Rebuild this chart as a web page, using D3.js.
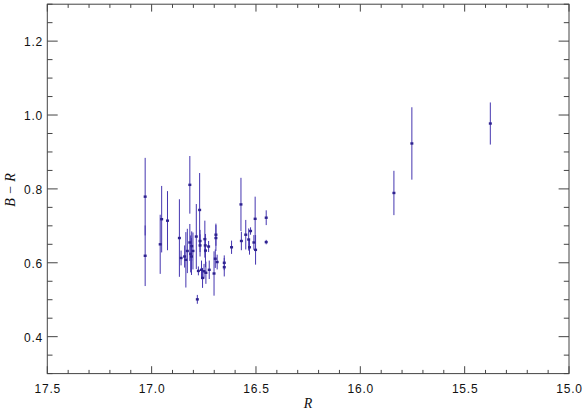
<!DOCTYPE html>
<html><head><meta charset="utf-8">
<script src="https://cdn.jsdelivr.net/npm/d3@7"></script>
<style>
body{margin:0;background:#fff;}
svg{display:block;}
text{font-family:"Liberation Sans",Arial,sans-serif;fill:#111;}
</style></head>
<body>
<svg id="c" width="584" height="411"></svg>
<script>
// R magnitude
const rMag = [17.031,17.031,16.959,16.952,16.924,16.867,16.859,16.842,16.836,16.829,
  16.817,16.817,16.813,16.809,16.808,16.802,16.786,16.776,16.781,16.770,
  16.768,16.768,16.761,16.756,16.749,16.745,16.743,16.742,16.740,16.727,
  16.724,16.701,16.695,16.692,16.692,16.686,16.652,16.652,16.617,16.572,
  16.570,16.549,16.535,16.531,16.526,16.510,16.504,16.502,16.451,16.451,
  15.839,15.753,15.377];
// B - R colour
const bMinusR = [0.779,0.619,0.650,0.718,0.714,0.667,0.613,0.617,0.608,0.632,
  0.811,0.655,0.624,0.617,0.645,0.632,0.671,0.578,0.501,0.743,
  0.659,0.647,0.581,0.559,0.577,0.664,0.647,0.633,0.573,0.644,
  0.581,0.571,0.611,0.667,0.676,0.602,0.600,0.588,0.642,0.758,
  0.659,0.676,0.663,0.642,0.686,0.655,0.719,0.635,0.722,0.656,
  0.789,0.923,0.977];
// error on B - R
const bMinusRErr = [0.105,0.082,0.080,0.090,0.080,0.105,0.020,0.030,0.075,0.060,
  0.078,0.050,0.050,0.050,0.040,0.050,0.088,0.012,0.012,0.100,
  0.030,0.030,0.025,0.027,0.020,0.050,0.020,0.045,0.030,0.015,
  0.025,0.060,0.025,0.035,0.030,0.020,0.020,0.025,0.018,0.072,
  0.025,0.040,0.030,0.020,0.010,0.020,0.060,0.040,0.020,0.006,
  0.060,0.098,0.057];
const xTicks = [17.5,17.0,16.5,16.0,15.5,15.0];
const yTicks = [0.4,0.6,0.8,1.0,1.2];
const xDomain = [17.5,15.0];
const yDomain = [0.3,1.3];

const L=47.3, Rr=569, T=4.2, B=373.6;
const svg = d3.select("#c");
const x = d3.scaleLinear().domain(xDomain).range([L,Rr]);
const y = d3.scaleLinear().domain(yDomain).range([B,T]);

const data = rMag.map((r,i)=>({r, v:bMinusR[i], e:bMinusRErr[i]}));

// error bars
svg.append("g").selectAll("line").data(data).join("line")
  .attr("x1",d=>x(d.r)).attr("x2",d=>x(d.r))
  .attr("y1",d=>y(d.v+d.e)).attr("y2",d=>y(d.v-d.e))
  .attr("stroke","#4536b0").attr("stroke-width",1);
// points
svg.append("g").selectAll("rect").data(data).join("rect")
  .attr("x",d=>x(d.r)-1.5).attr("y",d=>y(d.v)-1.2)
  .attr("width",3).attr("height",2.4)
  .attr("fill","#2e2290");

// frame
const axisColor="#444";
svg.append("rect").attr("x",L).attr("y",T).attr("width",Rr-L).attr("height",B-T)
  .attr("fill","none").attr("stroke",axisColor).attr("stroke-width",1);

// ticks
const xMinor = d3.range(0,26).map(i=>+(17.5-i*0.1).toFixed(2));
const yMinor = d3.range(0,21).map(i=>+(0.3+i*0.05).toFixed(3));
const isMajorX = v=>xTicks.some(t=>Math.abs(t-v)<1e-6);
const isMajorY = v=>yTicks.some(t=>Math.abs(t-v)<1e-6);
const tg = svg.append("g").attr("stroke",axisColor).attr("stroke-width",1);
xMinor.forEach(v=>{
  const len = isMajorX(v)?7.4:3.7;
  tg.append("line").attr("x1",x(v)).attr("x2",x(v)).attr("y1",B).attr("y2",B-len);
  tg.append("line").attr("x1",x(v)).attr("x2",x(v)).attr("y1",T).attr("y2",T+len);
});
yMinor.forEach(v=>{
  const len = isMajorY(v)?10.4:5.2;
  tg.append("line").attr("x1",L).attr("x2",L+len).attr("y1",y(v)).attr("y2",y(v));
  tg.append("line").attr("x1",Rr).attr("x2",Rr-len).attr("y1",y(v)).attr("y2",y(v));
});

// tick labels
svg.append("g").selectAll("text").data(xTicks).join("text")
  .attr("x",d=>x(d)+0.5).attr("y",393)
  .attr("text-anchor","middle").attr("font-size",12).attr("letter-spacing",0.8)
  .text(d=>d.toFixed(1));
svg.append("g").selectAll("text").data(yTicks).join("text")
  .attr("x",43).attr("y",d=>y(d)+5)
  .attr("text-anchor","end").attr("font-size",12).attr("letter-spacing",0.8)
  .text(d=>d.toFixed(1));

// axis titles
svg.append("text").attr("x",308).attr("y",408).attr("text-anchor","middle")
  .style("font-family","'Liberation Serif','Times New Roman',serif")
  .attr("font-size",14).attr("font-style","italic").text("R");
svg.append("text").attr("transform","translate(15,190) rotate(-90)")
  .style("font-family","'Liberation Serif','Times New Roman',serif")
  .attr("text-anchor","middle").attr("font-size",14).attr("font-style","italic")
  .text("B − R");
</script>
</body></html>
